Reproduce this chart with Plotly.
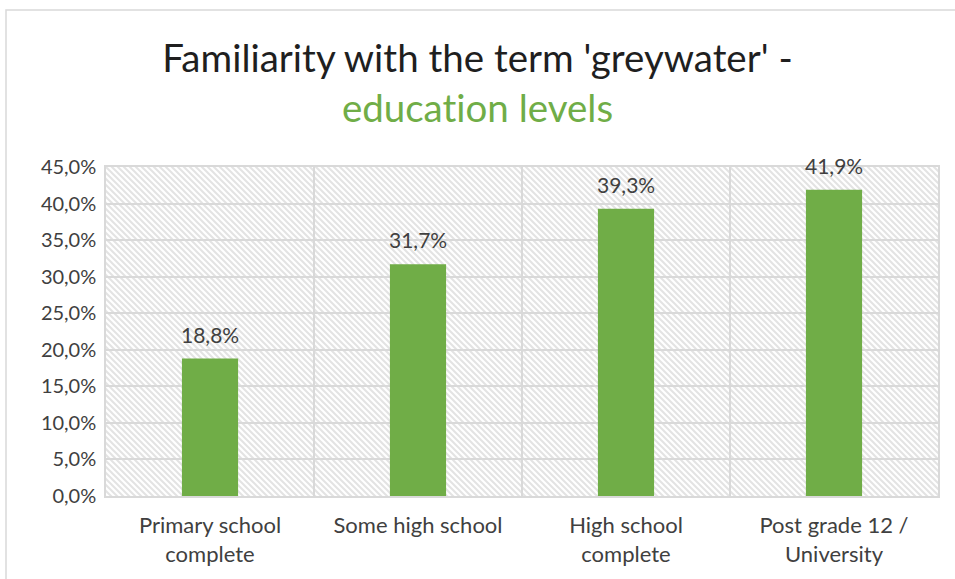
import base64
import plotly.graph_objects as go

# Share of respondents familiar with the term "greywater", by education level
categories = ["Primary school<br>complete", "Some high school",
              "High school<br>complete", "Post grade 12 /<br>University"]
familiar_pct = [18.8, 31.7, 39.3, 41.9]
y_ticks = [0, 5, 10, 15, 20, 25, 30, 35, 40, 45]
y_tick_labels = [f"{t:.1f}%".replace(".", ",") for t in y_ticks]

GREEN = "#70ad47"
GRID = "#d9d9d9"
TEXT = "#404040"
FONT = "Lato"

W, H = 955, 579
M = dict(l=106, r=17, t=167, b=83)
PW, PH = W - M["l"] - M["r"], H - M["t"] - M["b"]

# Diagonal hatch used as the plot-area fill
svg = f"""<svg xmlns='http://www.w3.org/2000/svg' width='{PW}' height='{PH}'>
<defs><pattern id='h' width='6' height='6' patternUnits='userSpaceOnUse'>
<rect width='6' height='6' fill='white'/>
<path d='M0,0 L6,6 M-3,3 L3,9 M3,-3 L9,3' stroke='#e3e3e3' stroke-width='2'/>
</pattern></defs>
<rect width='{PW}' height='{PH}' fill='url(#h)'/></svg>"""
hatch_src = "data:image/svg+xml;base64," + base64.b64encode(svg.encode()).decode()

fig = go.Figure()
fig.add_trace(go.Bar(
    x=categories, y=familiar_pct, width=0.27,
    marker=dict(color=GREEN, line=dict(width=0)),
    hoverinfo="skip",
))

# value labels above each bar
for c, v in zip(categories, familiar_pct):
    fig.add_annotation(
        x=c, y=v, xref="x", yref="y", text=f"{v:.1f}%".replace(".", ","),
        showarrow=False, yanchor="bottom", yshift=10,
        font=dict(family=FONT, size=21, color=TEXT),
    )

fig.add_layout_image(dict(
    source=hatch_src, xref="paper", yref="paper", x=0, y=1,
    sizex=1, sizey=1, xanchor="left", yanchor="top",
    sizing="stretch", layer="below",
))

# outer chart frame
fig.add_shape(type="rect", xref="paper", yref="paper",
              x0=(6 - M["l"]) / PW, x1=1.2,
              y0=-0.5, y1=(PH + M["t"] - 10) / PH,
              line=dict(color=GRID, width=1.5), layer="below")

fig.update_layout(
    width=W, height=H, margin=M,
    paper_bgcolor="white", plot_bgcolor="rgba(0,0,0,0)",
    showlegend=False,
    title=dict(
        text="Familiarity with the term 'greywater' -<br>"
             f"<span style='color:{GREEN};font-variant-ligatures:none'>"
             "education levels</span>",
        x=0.5, xanchor="center", y=1 - 72 / H, yanchor="middle",
        font=dict(family=FONT, size=38.5, color="#1f1f1f"),
    ),
)
fig.update_xaxes(
    type="category", tickson="boundaries", showgrid=True,
    gridcolor=GRID, gridwidth=1.5, ticks="",
    showline=True, linecolor=GRID, linewidth=1.5, mirror=True,
    tickfont=dict(family=FONT, size=22, color=TEXT),
    ticklabelstandoff=9,
)
fig.update_yaxes(
    range=[0, 45], tickvals=y_ticks, ticktext=y_tick_labels,
    showgrid=True, gridcolor=GRID, gridwidth=1.5, zeroline=False,
    showline=True, linecolor=GRID, linewidth=1.5, mirror=True, ticks="",
    tickfont=dict(family=FONT, size=20, color=TEXT),
    ticklabelstandoff=4,
)

fig.write_html("out.html")
